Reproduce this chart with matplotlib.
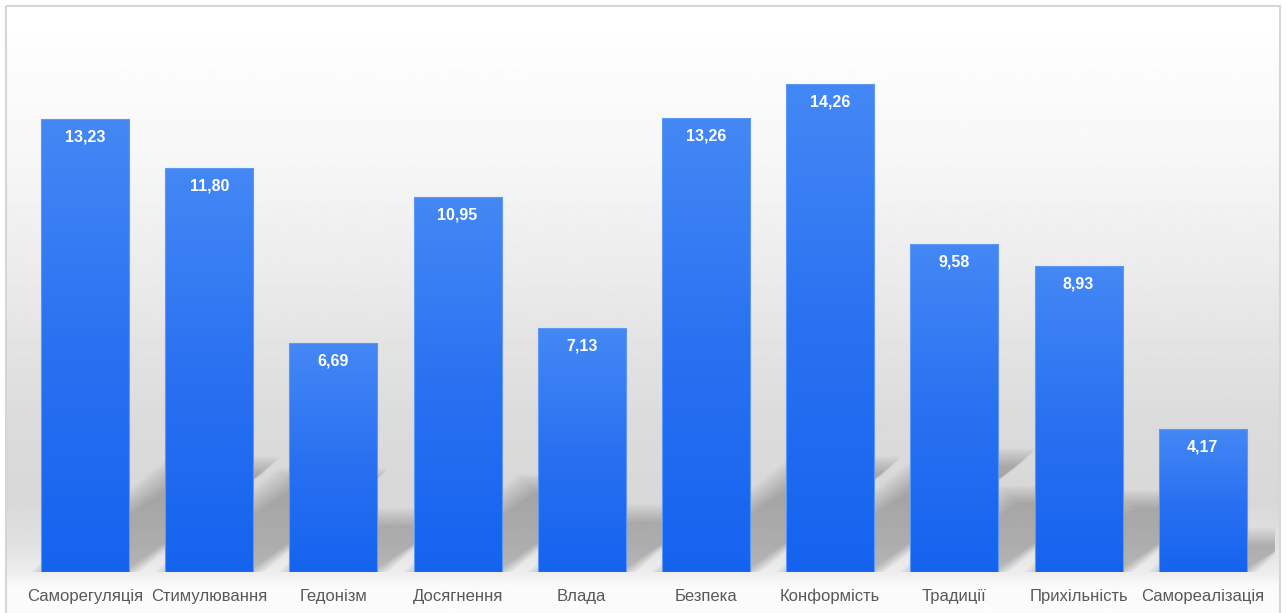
import matplotlib.pyplot as plt
import numpy as np
from matplotlib.patches import Polygon, Rectangle
from matplotlib.colors import LinearSegmentedColormap

categories = ["Саморегуляція", "Стимулювання", "Гедонізм", "Досягнення", "Влада",
              "Безпека", "Конформість", "Традиції", "Прихільність", "Самореалізація"]
values = [13.23, 11.80, 6.69, 10.95, 7.13, 13.26, 14.26, 9.58, 8.93, 4.17]
value_labels = ["13,23", "11,80", "6,69", "10,95", "7,13",
                "13,26", "14,26", "9,58", "8,93", "4,17"]

W, H = 1286, 613
fig = plt.figure(figsize=(W / 100, H / 100), dpi=100)
fig.patch.set_facecolor("white")

# background gradient + frame (figure pixel coordinates)
bg = fig.add_axes([0, 0, 1, 1], zorder=-5)
bg.set_xlim(0, W)
bg.set_ylim(H, 0)
bg.axis("off")
stops_y = [0, 10, 150, 300, 420, 500, 545, 572, 585, 613]
stops_v = [255, 255, 247, 232, 219, 216, 226, 238, 250, 252]
col = np.interp(np.arange(H), stops_y, stops_v) / 255.0
grad = np.repeat(col[:, None], 2, axis=1)
bg.imshow(grad, cmap="gray", vmin=0, vmax=1, extent=(6, 1279, H, 6),
          aspect="auto", interpolation="bilinear")
bg.add_patch(Rectangle((5.5, 5.5), 1274, 620, fill=False, edgecolor="#d6d6d6", lw=1.5))

# main axes: baseline at y=572px, 34.22 px per unit, bar pitch 124.2 px
x = np.arange(len(categories))
xmin, xmax = -0.5, 9.58
ax_left = 85 - 0.5 * 124.2
ax_right = 85 + 9.58 * 124.2
ymax = 16.0
ax_top = 572 - ymax * 34.22
ax = fig.add_axes([ax_left / W, (H - 572) / H, (ax_right - ax_left) / W, (572 - ax_top) / H])
ax.set_facecolor("none")
ax.set_xlim(xmin, xmax)
ax.set_ylim(0, ymax)
for s in ax.spines.values():
    s.set_visible(False)
ax.set_yticks([])
ax.set_xticks(x)
ax.set_xticklabels(categories, fontfamily="Liberation Sans", fontsize=12, color="#595959")
ax.tick_params(axis="x", length=0, pad=12)

width = 0.71
px_x = 124.2   # pixels per x unit
px_y = 34.22   # pixels per y unit

# perspective shadows, layered to fake a blur
a_sh = 0.0853  # x shift per value unit
b_sh = 0.23    # shadow height per value unit
for xi, h in zip(x, values):
    xl, xr = xi - width / 2, xi + width / 2
    for k in range(12):
        d = (k - 4) * 1.6
        dx, dy = d / px_x, d / px_y
        pts = [(xl - dx, 0), (xr + dx, 0),
               (xr + a_sh * h + dx, b_sh * h + dy), (xl + a_sh * h - dx, b_sh * h + dy)]
        ax.add_patch(Polygon(pts, closed=True, facecolor="black", edgecolor="none",
                             alpha=0.019, zorder=1))

# bars with vertical gradient
cmap = LinearSegmentedColormap.from_list("barblue", ["#1463ef", "#2a71f1", "#4488f5"])
bars = ax.bar(x, values, width=width, color="none", edgecolor="#5e98f6", linewidth=0.8, zorder=3)
g = np.linspace(0, 1, 256)[:, None]
for b, h in zip(bars, values):
    im = ax.imshow(g, cmap=cmap, origin="lower", aspect="auto", interpolation="bilinear",
                   extent=(b.get_x(), b.get_x() + b.get_width(), 0, h), zorder=2)
    im.set_clip_path(b)
ax.set_xlim(xmin, xmax)
ax.set_ylim(0, ymax)

for xi, h, lab in zip(x, values, value_labels):
    ax.annotate(lab, (xi, h), xytext=(0, -18), textcoords="offset pixels",
                ha="center", va="center", color="white", fontweight="bold",
                fontfamily="Liberation Sans", fontsize=11.5, zorder=5)

fig.savefig("out.png", dpi=100)
